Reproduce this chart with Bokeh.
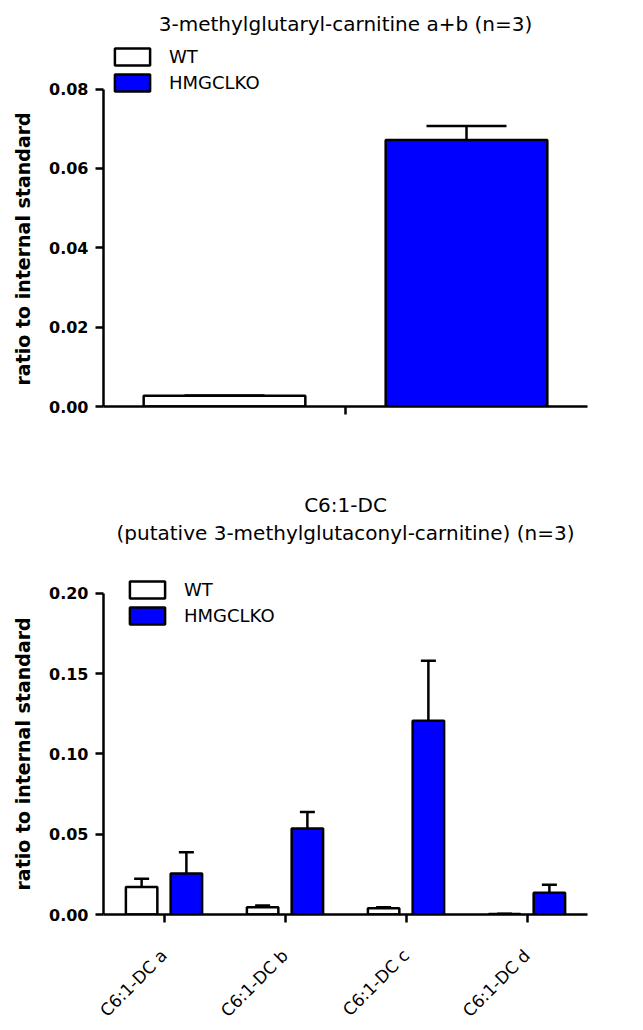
import math
from bokeh.plotting import figure
from bokeh.models import (ColumnDataSource, FactorRange, Whisker, TeeHead,
                          SingleIntervalTicker, NumeralTickFormatter, Title, Range1d)
from bokeh.transform import dodge
from bokeh.layouts import column
from bokeh.embed import file_html
from bokeh.resources import INLINE

# ---------------- data ----------------
series_names = ["WT", "HMGCLKO"]
y_label = "ratio to internal standard"

top_title = "3-methylglutaryl-carnitine a+b (n=3)"
top_categories = ["a+b"]
top_wt = [0.0027]
top_wt_sem = [0.0001]
top_ko = [0.0672]
top_ko_sem = [0.0035]

bottom_title_1 = "C6:1-DC"
bottom_title_2 = "(putative 3-methylglutaconyl-carnitine) (n=3)"
bottom_categories = ["C6:1-DC a", "C6:1-DC b", "C6:1-DC c", "C6:1-DC d"]
bottom_wt = [0.0172, 0.0045, 0.0039, 0.0003]
bottom_wt_sem = [0.0051, 0.0011, 0.0006, 0.0001]
bottom_ko = [0.0255, 0.0536, 0.1207, 0.0135]
bottom_ko_sem = [0.0133, 0.0102, 0.0373, 0.0051]

FONT = "DejaVu Sans"
BLUE = "#0000FF"
LW = 2.5


def make_chart(cats, wt, wt_sem, ko, ko_sem, height, y_end, y_top, y_int,
               offset, bar_w, cap, min_top, min_bottom, legend_loc, show_labels,
               label_offset):
    src = ColumnDataSource(dict(
        cat=cats, wt=wt, ko=ko,
        wt_hi=[v + s for v, s in zip(wt, wt_sem)],
        ko_hi=[v + s for v, s in zip(ko, ko_sem)],
    ))
    p = figure(width=635, height=height, x_range=FactorRange(*cats, range_padding=0),
               y_range=Range1d(0, y_end), output_backend="svg", toolbar_location=None,
               min_border_left=102, min_border_right=48, min_border_top=min_top,
               min_border_bottom=min_bottom)
    p.outline_line_color = None
    p.grid.visible = False

    p.vbar(x=dodge("cat", -offset, range=p.x_range), top="wt", width=bar_w, source=src,
           fill_color="white", line_color="black", line_width=LW, legend_label=series_names[0])
    p.vbar(x=dodge("cat", offset, range=p.x_range), top="ko", width=bar_w, source=src,
           fill_color=BLUE, line_color="black", line_width=LW, legend_label=series_names[1])

    for off, lo, hi in ((-offset, "wt", "wt_hi"), (offset, "ko", "ko_hi")):
        w = Whisker(base=dodge("cat", off, range=p.x_range), lower=lo, upper=hi, source=src,
                    line_width=LW, line_color="black", lower_head=None,
                    upper_head=TeeHead(size=cap, line_width=LW, line_color="black"))
        p.add_layout(w)

    # y axis
    ya = p.yaxis[0]
    ya.ticker = SingleIntervalTicker(interval=y_int)
    ya.formatter = NumeralTickFormatter(format="0.00")
    ya.bounds = (0, y_top)
    ya.major_label_text_font = FONT
    ya.major_label_text_font_style = "bold"
    ya.major_label_text_font_size = "16px"
    ya.major_label_text_color = "black"
    ya.major_label_standoff = 7
    ya.minor_tick_line_color = None

    # y-axis title, placed so that it is centred on the drawn axis (0 .. top tick)
    p.add_layout(Title(text=y_label, align="left", offset=label_offset, vertical_align="top",
                       standoff=22, text_font=FONT, text_font_style="bold",
                       text_font_size="19px", text_color="black"), "left")

    xa = p.xaxis[0]
    xa.major_label_text_font = FONT
    xa.major_label_text_font_size = "17px"
    xa.major_label_text_color = "black"
    if show_labels:
        xa.major_label_orientation = math.pi / 4
        xa.major_label_standoff = 30
    else:
        xa.major_label_text_color = None

    for ax in (ya, xa):
        ax.axis_line_width = LW
        ax.axis_line_color = "black"
        ax.major_tick_line_width = LW
        ax.major_tick_line_color = "black"
        ax.major_tick_in = 0
        ax.major_tick_out = 8

    lg = p.legend[0]
    lg.location = legend_loc
    lg.padding = 0
    lg.margin = 0
    lg.spacing = 5
    lg.glyph_width = 44
    lg.glyph_height = 21
    lg.label_standoff = 15
    lg.label_text_font = FONT
    lg.label_text_font_size = "18px"
    lg.label_text_color = "black"
    lg.border_line_color = None
    lg.background_fill_alpha = 0
    return p


top = make_chart(top_categories, top_wt, top_wt_sem, top_ko, top_ko_sem,
                 height=440, y_end=0.091, y_top=0.08, y_int=0.02,
                 offset=0.25, bar_w=0.334, cap=80, min_top=42, min_bottom=34,
                 legend_loc=(7, 313), show_labels=False, label_offset=21)
top.title.text = top_title
top.title.align = "center"
top.title.text_font = FONT
top.title.text_font_size = "20px"
top.title.text_font_style = "normal"
top.title.text_color = "black"
top.title.standoff = 19

bottom = make_chart(bottom_categories, bottom_wt, bottom_wt_sem, bottom_ko, bottom_ko_sem,
                    height=590, y_end=0.2292, y_top=0.20, y_int=0.05,
                    offset=0.185, bar_w=0.26, cap=15, min_top=106, min_bottom=115,
                    legend_loc=(22, 288), show_labels=True, label_offset=24)
for txt, so in ((bottom_title_2, 4), (bottom_title_1, 0)):
    bottom.add_layout(Title(text=txt, align="center", text_font=FONT, text_font_size="20px",
                            text_font_style="normal", text_color="black", standoff=so), "above")

layout = column(top, bottom)
open("out.html", "w").write(file_html(layout, INLINE))
